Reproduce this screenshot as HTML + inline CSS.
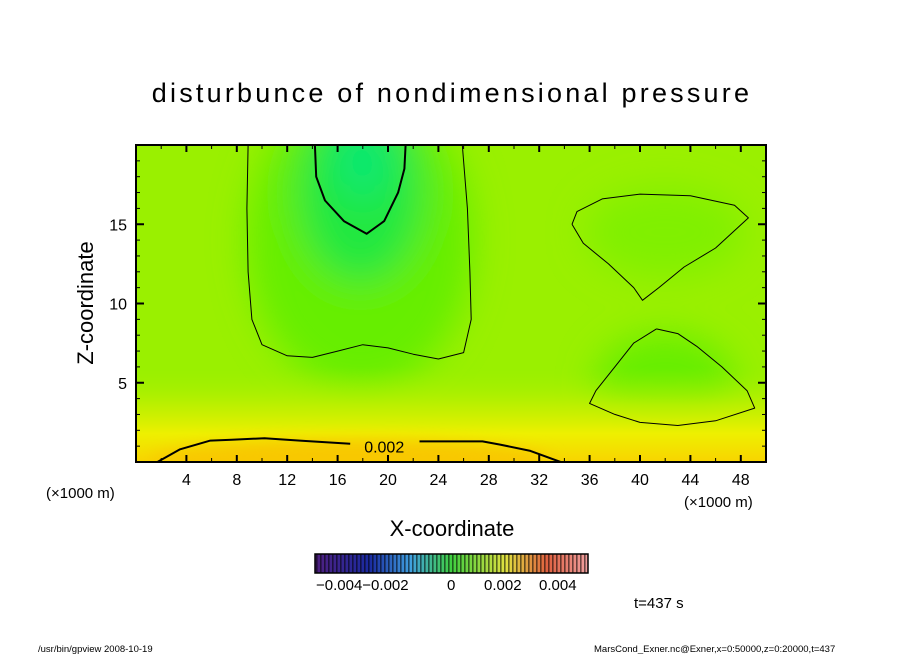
<!DOCTYPE html>
<html><head><meta charset="utf-8"><style>
html,body{margin:0;padding:0;background:#fff;}
svg{display:block;font-family:"Liberation Sans",sans-serif;}
</style></head><body>
<svg id="chart" width="904" height="654" viewBox="0 0 904 654" xmlns="http://www.w3.org/2000/svg">
<defs>
  <filter id="blur" x="-50%" y="-50%" width="200%" height="200%"><feGaussianBlur stdDeviation="18"/></filter>
  <filter id="blurS" x="-50%" y="-50%" width="200%" height="200%"><feGaussianBlur stdDeviation="8"/></filter>
  <clipPath id="plotClip"><rect x="136" y="145" width="630" height="317"/></clipPath>
  <linearGradient id="bottomGrad" x1="0" y1="0" x2="0" y2="1">
    <stop offset="0" stop-color="#9cf000" stop-opacity="0"/>
    <stop offset="0.4" stop-color="#c4f000" stop-opacity="0.8"/>
    <stop offset="0.7" stop-color="#eef000"/>
    <stop offset="1" stop-color="#f8d400"/>
  </linearGradient>
  <linearGradient id="cbar" x1="0" x2="1" y1="0" y2="0">
    <stop offset="0" stop-color="#502080"/><stop offset="0.2" stop-color="#1a2aa0"/>
    <stop offset="0.35" stop-color="#40a0e0"/><stop offset="0.5" stop-color="#40d040"/>
    <stop offset="0.7" stop-color="#e0e040"/><stop offset="0.85" stop-color="#e06040"/>
    <stop offset="1" stop-color="#f0a0a0"/>
  </linearGradient>
  <pattern id="cstripe" width="4" height="10" patternUnits="userSpaceOnUse"><rect x="0" y="0" width="1.6" height="10" fill="#000" opacity="0.55"/></pattern>
</defs>
<text x="452" y="102" text-anchor="middle" font-size="27" letter-spacing="3.2">disturbunce of nondimensional pressure</text>
<g id="plot" clip-path="url(#plotClip)"></g>
<g id="axes"></g>
<text transform="translate(93,303) rotate(-90)" text-anchor="middle" font-size="22">Z-coordinate</text>
<text x="452" y="536" text-anchor="middle" font-size="22">X-coordinate</text>
<text x="46" y="498" font-size="15">(×1000 m)</text>
<text x="684" y="507" font-size="15">(×1000 m)</text>
<g>
  <rect x="315" y="554" width="273" height="19" fill="url(#cbar)"/>
  <rect x="315" y="554" width="273" height="19" fill="url(#cstripe)"/>
  <rect x="315" y="554" width="273" height="19" fill="none" stroke="#000" stroke-width="1.5"/>
  <text x="316" y="590" font-size="15">−0.004−0.002</text>
  <text x="447" y="590" font-size="15">0</text>
  <text x="484" y="590" font-size="15">0.002</text>
  <text x="539" y="590" font-size="15">0.004</text>
</g>
<text x="634" y="608" font-size="15">t=437 s</text>
<text x="38" y="652" font-size="9.5">/usr/bin/gpview  2008-10-19</text>
<text x="594" y="652" font-size="9.5">MarsCond_Exner.nc@Exner,x=0:50000,z=0:20000,t=437</text>
<script>
const xTicks=[4,8,12,16,20,24,28,32,36,40,44,48];
const zTicks=[5,10,15];
const bigUX=[8.9,8.8,8.9,9.2,10,12,14,16,18,20,22,24,26,26.6,26.5,26.3,25.9];
const bigUZ=[20,16,12,9,7.4,6.7,6.6,7.0,7.4,7.2,6.8,6.5,6.9,9,12,16,20];
const innerX=[14.2,14.3,15,16.5,18.3,19.7,20.8,21.3,21.4];
const innerZ=[20,18,16.5,15.2,14.4,15.2,17,18.5,20];
const upperX=[34.6,35.5,37.5,39.5,40.2,41.5,43.5,46,48.6,47.5,44,40,37,35,34.6];
const upperZ=[15,13.8,12.5,11,10.2,11,12.3,13.5,15.4,16.2,16.8,16.9,16.6,15.8,15];
const lowerX=[41.3,39.5,38,36.5,36,38,40,43,46,49.1,48.5,46.5,44.5,43,41.3];
const lowerZ=[8.4,7.5,6,4.5,3.7,3,2.5,2.3,2.6,3.4,4.5,6,7.3,8.1,8.4];
const p002aX=[1.7,3.5,5.9,7.6,10.2,13,17];
const p002aZ=[0,0.8,1.35,1.4,1.5,1.35,1.15];
const p002bX=[22.5,25.3,27.5,28.9,31.3,33.7];
const p002bZ=[1.3,1.3,1.3,1.1,0.7,0];
const X0=136,X1=766,Y0=462,Y1=145;
const sx=v=>X0+v*(X1-X0)/50;
const sz=v=>Y0-v*(Y0-Y1)/20;
const NS="http://www.w3.org/2000/svg";
function mk(tag,attrs,parent){const e=document.createElementNS(NS,tag);for(const k in attrs)e.setAttribute(k,attrs[k]);parent.appendChild(e);return e;}
const plot=document.getElementById('plot');
const axes=document.getElementById('axes');
mk('rect',{x:X0,y:Y1,width:X1-X0,height:Y0-Y1,fill:'#9af000'},plot);
const fg=mk('g',{filter:'url(#blur)'},plot);
mk('ellipse',{cx:sx(17.8),cy:sz(14),rx:(sx(27)-sx(9))/2,ry:150,fill:'#66ee00'},fg);
mk('ellipse',{cx:sx(17.8),cy:sz(17),rx:(sx(23)-sx(13))/2,ry:90,fill:'#22e840'},fg);
mk('ellipse',{cx:sx(18),cy:sz(19),rx:30,ry:40,fill:'#10e870'},fg);
mk('ellipse',{cx:sx(42),cy:sz(5),rx:70,ry:50,fill:'#66ee00'},fg);
mk('ellipse',{cx:sx(42),cy:sz(14.5),rx:80,ry:45,fill:'#80f000'},fg);
mk('rect',{x:X0,y:sz(6),width:X1-X0,height:sz(0)-sz(6),fill:'url(#bottomGrad)'},plot);
const bg=mk('g',{filter:'url(#blurS)'},plot);
mk('ellipse',{cx:sx(17),cy:sz(0),rx:sx(33)-sx(17),ry:22,fill:'#f8c800'},bg);
function line(xs,zs,w,name){
  let d=xs.map((x,i)=>(i?'L':'M')+sx(x).toFixed(1)+','+sz(zs[i]).toFixed(1)).join(' ');
  const p=mk('path',{d:d,fill:'none',stroke:'#000','stroke-width':w,'stroke-linejoin':'round'},plot);
  
  
}
line(bigUX,bigUZ,1,'contour-outer');
line(innerX,innerZ,2,'contour-inner');
line(upperX,upperZ,1,'contour-upper-right');
line(lowerX,lowerZ,1,'contour-lower-right');
line(p002aX,p002aZ,2,'contour-0002-left');
line(p002bX,p002bZ,2,'contour-0002-right');
const lbl=mk('text',{x:sx(19.7),y:sz(0.6),'text-anchor':'middle','font-size':16},plot);
lbl.textContent='0.002';


mk('rect',{x:X0,y:Y1,width:X1-X0,height:Y0-Y1,fill:'none',stroke:'#000','stroke-width':2},axes);
for(let v=2;v<50;v+=2){const L=(v%4===0)?7:4;
  mk('line',{x1:sx(v),x2:sx(v),y1:Y0,y2:Y0-L,stroke:'#000','stroke-width':(L>4?2:1)},axes);
  mk('line',{x1:sx(v),x2:sx(v),y1:Y1,y2:Y1+L,stroke:'#000','stroke-width':(L>4?2:1)},axes);}
for(let v=1;v<20;v++){const L=(v%5===0)?8:4;
  mk('line',{x1:X0,x2:X0+L,y1:sz(v),y2:sz(v),stroke:'#000','stroke-width':(L>4?2:1)},axes);
  mk('line',{x1:X1,x2:X1-L,y1:sz(v),y2:sz(v),stroke:'#000','stroke-width':(L>4?2:1)},axes);}
xTicks.forEach(v=>{const t=mk('text',{x:sx(v),y:485,'text-anchor':'middle','font-size':16},axes);t.textContent=v;
  
  });
zTicks.forEach(v=>{const t=mk('text',{x:127,y:sz(v)+6,'text-anchor':'end','font-size':16},axes);t.textContent=v;
  
  });
</script>
</svg>
</body></html>
